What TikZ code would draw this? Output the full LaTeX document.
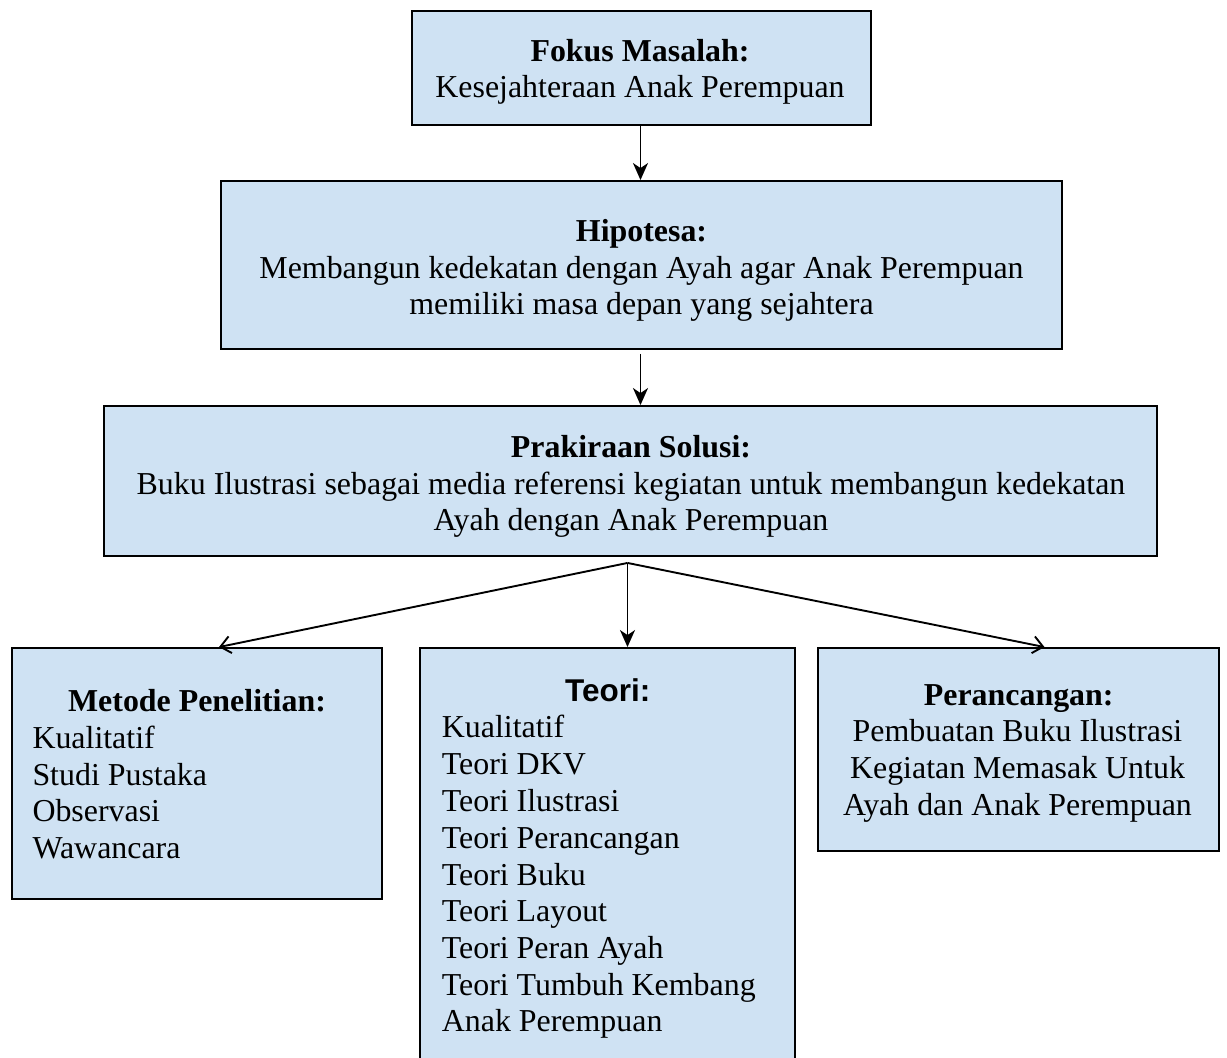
\documentclass[tikz,border=0pt]{standalone}
\usepackage{fontspec}
\setmainfont{Liberation Serif}
\newfontfamily\sansbf{Liberation Sans}
\usetikzlibrary{arrows.meta,calc}
\definecolor{boxfill}{RGB}{207,226,243}
\begin{document}
\begin{tikzpicture}[x=1pt,y=-1pt,
  box/.style={draw=black, line width=1.9pt, fill=boxfill, rectangle, inner sep=0pt},
  txt/.style={inner sep=0pt, font=\fontsize{31.9}{37}\selectfont},
  ttl/.style={inner sep=0pt, font=\fontsize{31.9}{37}\selectfont\bfseries},
  sttl/.style={inner sep=0pt, font=\fontsize{31.5}{37}\selectfont\sansbf\bfseries},
  vline/.style={line width=1.9pt, -{Stealth[length=17pt,width=15pt,inset=5pt]}},
  dline/.style={line width=1.9pt, -{Straight Barb[length=10pt,width=17pt]}}]
\useasboundingbox (0,0) rectangle (1227,1058);
\clip (0,0) rectangle (1227,1058);
\fill[white] (0,0) rectangle (1227,1058);

% boxes
\node[box, minimum width=459pt, minimum height=114pt] (b1) at (641.5,68) {};
\node[box, minimum width=841pt, minimum height=168pt] (b2) at (641.5,265) {};
\node[box, minimum width=1053pt, minimum height=150pt] (b3) at (630.5,481) {};
\node[box, minimum width=370pt, minimum height=251pt] (b4) at (197,773.5) {};
\node[box, minimum width=375pt, minimum height=432pt] (b5) at (607.5,864) {};
\node[box, minimum width=401pt, minimum height=203pt] (b6) at (1018.5,749.5) {};

% box 1
\node[ttl, anchor=base] (t1a) at (640,61) {Fokus Masalah:};
\node[txt, anchor=base] (t1b) at (640,97.5) {Kesejahteraan Anak Perempuan};

% box 2
\node[ttl, anchor=base] (t2a) at (641.5,241) {Hipotesa:};
\node[txt, anchor=base] (t2b) at (641.5,278) {Membangun kedekatan dengan Ayah agar Anak Perempuan};
\node[txt, anchor=base] (t2c) at (641.5,314) {memiliki masa depan yang sejahtera};

% box 3
\node[ttl, anchor=base] (t3a) at (631,457.5) {Prakiraan Solusi:};
\node[txt, anchor=base] (t3b) at (631,494) {Buku Ilustrasi sebagai media referensi kegiatan untuk membangun kedekatan};
\node[txt, anchor=base] (t3c) at (631,530.5) {Ayah dengan Anak Perempuan};

% box 4
\node[ttl, anchor=base] (t4a) at (197,711.7) {Metode Penelitian:};
\node[txt, anchor=base west] (t4b) at (32.3,748.3) {Kualitatif};
\node[txt, anchor=base west] (t4c) at (32.3,785) {Studi Pustaka};
\node[txt, anchor=base west] (t4d) at (32.3,821.7) {Observasi};
\node[txt, anchor=base west] (t4e) at (32.3,858.3) {Wawancara};

% box 5
\node[sttl, anchor=base] (t5a) at (607.8,701.7) {Teori:};
\node[txt, anchor=base west] (t5b) at (441.7,737.3) {Kualitatif};
\node[txt, anchor=base west] (t5c) at (441.7,774.3) {Teori DKV};
\node[txt, anchor=base west] (t5d) at (441.7,811.2) {Teori Ilustrasi};
\node[txt, anchor=base west] (t5e) at (441.7,848.2) {Teori Perancangan};
\node[txt, anchor=base west] (t5f) at (441.7,885) {Teori Buku};
\node[txt, anchor=base west] (t5g) at (441.7,921.7) {Teori Layout};
\node[txt, anchor=base west] (t5h) at (441.7,958.3) {Teori Peran Ayah};
\node[txt, anchor=base west] (t5i) at (441.7,995) {Teori Tumbuh Kembang};
\node[txt, anchor=base west] (t5j) at (441.7,1031.7) {Anak Perempuan};

% box 6
\node[ttl, anchor=base] (t6a) at (1018.7,705.7) {Perancangan:};
\node[txt, anchor=base] (t6b) at (1017.5,741.7) {Pembuatan Buku Ilustrasi};
\node[txt, anchor=base] (t6c) at (1017.5,778.3) {Kegiatan Memasak Untuk};
\node[txt, anchor=base] (t6d) at (1017.5,815) {Ayah dan Anak Perempuan};

% connectors
\draw[vline] ($(b1.south)+(-1,0)$) -- ($(b2.north)+(-1,0)$);
\draw[vline] ($(b2.south)+(-1,4)$) -- ($(b2.south |- b3.north)+(-1,0)$);
\coordinate (split) at ($(b3.south)+(-3,6)$);
\draw[vline] (split) -- (split |- b5.north);
\draw[dline] (split) -- ($(b4.north)+(22,0)$);
\draw[dline] (split) -- ($(b6.north)+(26,0)$);
\end{tikzpicture}
\end{document}
